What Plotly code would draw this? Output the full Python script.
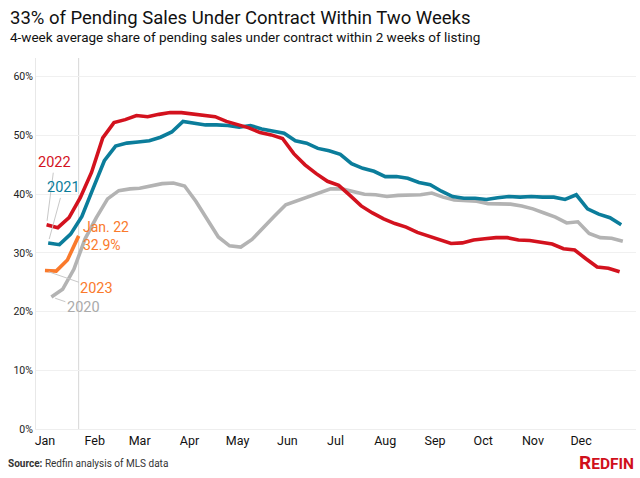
import pandas as pd
import plotly.graph_objects as go

# ---- data (weekly, 4-week average share of pending sales under contract within 2 weeks) ----
start_2020 = "2020-01-05"
start_2021 = "2021-01-03"
start_2022 = "2022-01-02"
start_2023 = "2023-01-01"

vals_2020 = [22.5, 23.8, 27.2, 32.4, 36.0, 39.2, 40.6, 40.9, 41.0, 41.4, 41.8, 41.9, 41.4,
             38.8, 35.8, 32.7, 31.2, 31.0, 32.3, 34.4, 36.3, 38.2, 38.9, 39.5, 40.2, 40.9,
             40.9, 40.4, 40.0, 39.9, 39.6, 39.8, 39.9, 39.9, 40.2, 39.5, 39.0, 38.9, 38.8,
             38.4, 38.3, 38.3, 38.0, 37.5, 36.8, 36.1, 35.1, 35.3, 33.3, 32.6, 32.5, 32.0]
vals_2021 = [31.7, 31.4, 33.2, 36.2, 41.0, 45.7, 48.2, 48.7, 48.9, 49.1, 49.7, 50.6, 52.4,
             52.1, 51.8, 51.8, 51.7, 51.4, 51.7, 51.1, 50.7, 50.4, 49.1, 48.7, 47.8, 47.4,
             46.8, 45.2, 44.4, 43.9, 43.0, 43.0, 42.7, 42.0, 41.6, 40.5, 39.6, 39.3, 39.3,
             39.1, 39.4, 39.6, 39.5, 39.6, 39.5, 39.5, 39.1, 39.9, 37.5, 36.6, 36.0, 34.8]
vals_2022 = [34.8, 34.3, 36.0, 39.4, 43.7, 49.6, 52.2, 52.7, 53.4, 53.2, 53.6, 53.9, 53.9,
             53.7, 53.4, 53.2, 52.4, 51.8, 51.3, 50.5, 50.1, 49.5, 46.9, 45.0, 43.5, 42.2,
             41.5, 39.8, 38.0, 36.8, 35.8, 35.0, 34.4, 33.5, 32.9, 32.2, 31.6, 31.7, 32.2,
             32.4, 32.6, 32.6, 32.2, 32.1, 31.8, 31.5, 30.7, 30.5, 29.0, 27.6, 27.4, 26.8]
vals_2023 = [27.0, 26.9, 28.8, 32.9]

series = [
    ("2020", start_2020, vals_2020, "#B3B3B3"),
    ("2021", start_2021, vals_2021, "#0B7D9B"),
    ("2022", start_2022, vals_2022, "#D3121E"),
    ("2023", start_2023, vals_2023, "#FA7A2C"),
]

y_ticks = [0, 10, 20, 30, 40, 50, 60]
y_tick_text = ["%d%%" % v for v in y_ticks]


def common_year(start, n):
    d = pd.date_range(start, periods=n, freq="7D")
    return [pd.Timestamp(year=2022, month=t.month, day=t.day) for t in d]


fig = go.Figure()
xs = {}
for name, start, vals, color in series:
    x = common_year(start, len(vals))
    xs[name] = x
    fig.add_trace(go.Scatter(x=x, y=vals, mode="lines", name=name,
                             line=dict(color=color, width=3.6),
                             hoverinfo="skip"))

FONT = "Roboto"
lead = "#C8C8C8"

# series labels with leader lines
label_specs = [
    ("2022", 0, 8, -62, "#D3121E"),
    ("2021", 0, 15, -55, "#0B7D9B"),
    ("2023", 0, 52, 18, "#FA7A2C"),
    ("2020", 0, 32, 11, "#AAAAAA"),
]
vals_by = {n: v for n, _, v, _ in series}
for name, idx, ax, ay, color in label_specs:
    fig.add_annotation(x=xs[name][idx], y=vals_by[name][idx], xref="x", yref="y",
                       text=name, showarrow=True, arrowhead=0, arrowwidth=1,
                       arrowcolor=lead, ax=ax, ay=ay, standoff=4,
                       font=dict(family=FONT, size=14.5, color=color))

# last 2023 point label
fig.add_annotation(x=xs["2023"][-1], y=vals_2023[-1], xref="x", yref="y",
                   text="Jan. 22<br>%.1f%%" % vals_2023[-1], showarrow=False,
                   xanchor="left", yanchor="middle", xshift=2, align="left",
                   font=dict(family=FONT, size=14, color="#FA7A2C"))

# vertical line at latest week
fig.add_shape(type="line", x0=xs["2023"][-1], x1=xs["2023"][-1], y0=0, y1=1,
              xref="x", yref="paper", line=dict(color="#D6D6D6", width=1), layer="below")

# titles & footer
fig.add_annotation(xref="paper", yref="paper", x=-0.047, y=1.108, xanchor="left",
                   yanchor="middle", showarrow=False,
                   text="33% of Pending Sales Under Contract Within Two Weeks",
                   font=dict(family=FONT, size=18.5, color="#111111"))
fig.add_annotation(xref="paper", yref="paper", x=-0.047, y=1.057, xanchor="left",
                   yanchor="middle", showarrow=False,
                   text="4-week average share of pending sales under contract within 2 weeks of listing",
                   font=dict(family=FONT, size=13.5, color="#111111"))
fig.add_annotation(xref="paper", yref="paper", x=-0.05, y=-0.092, xanchor="left",
                   yanchor="middle", showarrow=False,
                   text="<b>Source:</b> Redfin analysis of MLS data",
                   font=dict(family=FONT, size=10, color="#333333"))
fig.add_annotation(xref="paper", yref="paper", x=1.0, y=-0.09, xanchor="right",
                   yanchor="middle", showarrow=False,
                   text="<b><span style='font-size:19px'>R</span>EDFIN</b>",
                   font=dict(family=FONT, size=15.5, color="#D0101B"))

fig.update_layout(
    width=640, height=478,
    margin=dict(l=36, r=4, t=58, b=49),
    plot_bgcolor="white", paper_bgcolor="white",
    showlegend=False,
    font=dict(family=FONT, color="#111111"),
)
fig.update_xaxes(
    type="date", automargin=False,
    range=["2021-12-26 10:00", "2023-01-04 05:00"],
    dtick="M1", tick0="2022-01-01", tickformat="%b",
    showgrid=False, zeroline=False,
    showline=True, linecolor="#EEEEEE", linewidth=1,
    ticks="", tickfont=dict(family=FONT, size=12.5, color="#111111"),
)
fig.update_yaxes(
    automargin=False,
    range=[0, 63.2], tickmode="array", tickvals=y_ticks, ticktext=y_tick_text,
    showgrid=True, gridcolor="#F0F0F0", gridwidth=1,
    zeroline=False, showline=True, linecolor="#E8E8E8", linewidth=1,
    ticks="", tickfont=dict(family=FONT, size=10.5, color="#222222"),
)

fig.write_html("out.html", config={"displayModeBar": False},
               post_script="document.body.style.margin='0';document.body.style.overflow='hidden';")
